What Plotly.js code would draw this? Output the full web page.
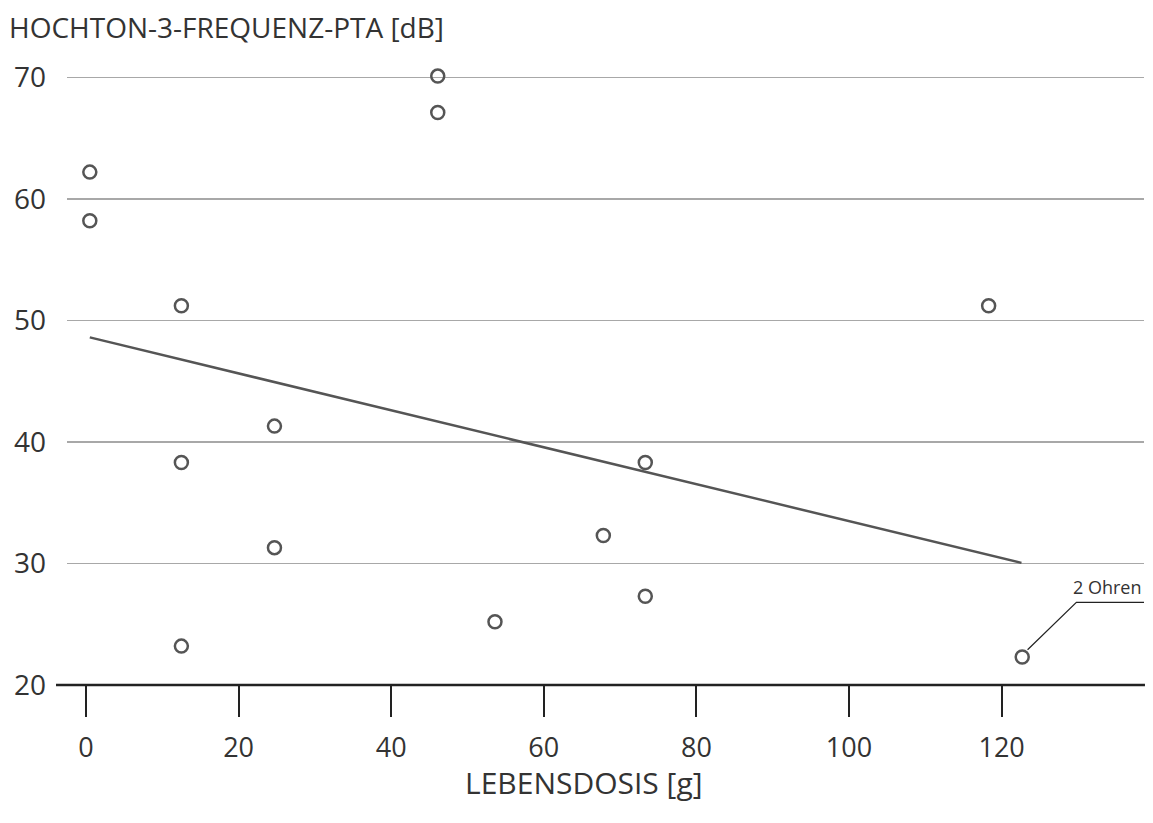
<!DOCTYPE html>
<html>
<head>
<meta charset="utf-8">
<script src="https://cdn.plot.ly/plotly-3.0.1.min.js"></script>
<style>
  html, body { margin: 0; padding: 0; background: #fff; }
  #chart { width: 1153px; height: 823px; }
</style>
</head>
<body>
<div id="chart"></div>
<script>
// Data
const doseX = [0.5, 0.5, 12.5, 12.5, 12.5, 24.7, 24.7, 46.1, 46.1, 53.6, 67.8, 73.3, 73.3, 118.3, 122.7];
const ptaY  = [62.2, 58.2, 51.2, 38.3, 23.2, 41.3, 31.3, 70.1, 67.1, 25.2, 32.3, 38.3, 27.3, 51.2, 22.3];
const trendX = [0.5, 122.6];
const trendY = [48.6, 30.05];
const xTicks = [0, 20, 40, 60, 80, 100, 120];
const yTicks = [20, 30, 40, 50, 60, 70];
const yTitle = 'HOCHTON-3-FREQUENZ-PTA [dB]';
const xTitle = 'LEBENSDOSIS [g]';
const noteText = '2 Ohren';

const FONT = 'Open Sans, Noto Sans, sans-serif';
const TXT = '#333333';
const MARK = '#555555';

const traces = [
  {
    x: trendX, y: trendY, type: 'scatter', mode: 'lines',
    line: { color: MARK, width: 2.5 }, hoverinfo: 'skip', showlegend: false,
    cliponaxis: false
  },
  {
    x: doseX, y: ptaY, type: 'scatter', mode: 'markers',
    marker: { symbol: 'circle-open', size: 13, color: MARK, line: { color: MARK, width: 2.5 } },
    showlegend: false, cliponaxis: false
  }
];

const layout = {
  width: 1153, height: 823,
  margin: { l: 67, r: 9, t: 53, b: 138 },
  paper_bgcolor: '#ffffff', plot_bgcolor: '#ffffff',
  font: { family: FONT, color: TXT, size: 28 },
  showlegend: false,
  xaxis: {
    range: [-2.49, 138.66],
    tickmode: 'array', tickvals: xTicks, ticktext: xTicks.map(String),
    ticks: 'outside', ticklen: 31, tickwidth: 2, tickcolor: '#222222',
    ticklabelstandoff: 8,
    showgrid: false, zeroline: false, showline: false,
    tickfont: { family: FONT, size: 27, color: TXT }
  },
  yaxis: {
    range: [20, 72],
    tickmode: 'array', tickvals: yTicks, ticktext: yTicks.map(String),
    ticks: '', ticklabelstandoff: 20,
    showgrid: true, gridcolor: '#a8a8a8', gridwidth: 1.3,
    zeroline: false, showline: false,
    tickfont: { family: FONT, size: 28, color: TXT }
  },
  shapes: [
    { type: 'line', xref: 'paper', yref: 'paper', x0: -0.0102, x1: 1.0009, y0: 0, y1: 0,
      line: { color: '#222222', width: 2.5 }, layer: 'above' },
    { type: 'path', xref: 'x', yref: 'y',
      path: 'M 123.4,22.9 L 129.8,26.8 L 138.66,26.8',
      line: { color: '#222222', width: 1.2 }, layer: 'above' }
  ],
  annotations: [
    { text: yTitle, xref: 'paper', yref: 'paper', x: -0.0557, y: 1.0,
      xanchor: 'left', yanchor: 'bottom', yshift: 5, showarrow: false,
      font: { family: FONT, size: 28, color: TXT } },
    { text: xTitle, xref: 'paper', yref: 'paper', x: 0.48, y: 0,
      xanchor: 'center', yanchor: 'middle', yshift: -97, showarrow: false,
      font: { family: FONT, size: 30, color: TXT } },
    { text: noteText, xref: 'x', yref: 'y', x: 138.66, y: 26.8,
      xanchor: 'right', yanchor: 'bottom', yshift: 1, showarrow: false,
      font: { family: FONT, size: 18, color: TXT } }
  ]
};

Plotly.newPlot('chart', traces, layout, { displayModeBar: false, staticPlot: true });
</script>
</body>
</html>
